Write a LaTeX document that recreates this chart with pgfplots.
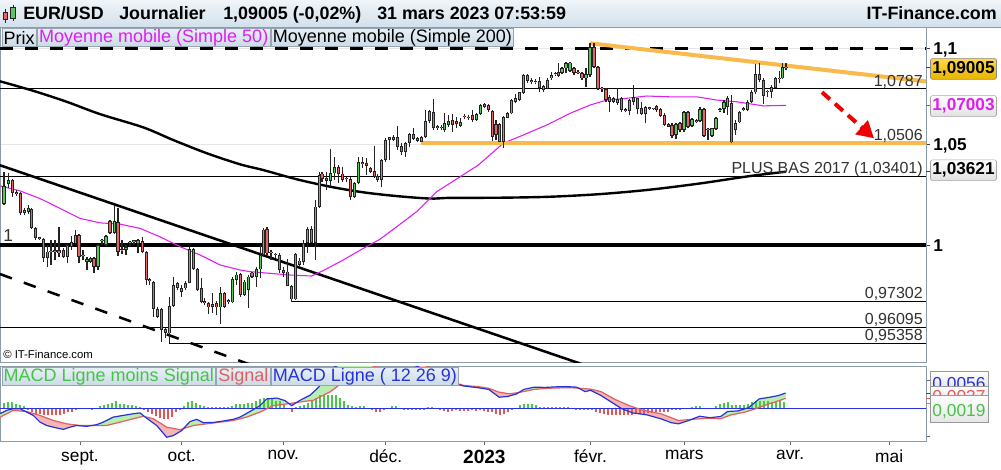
\documentclass[border=0pt]{standalone}
\usepackage{pgfplots}
\pgfplotsset{compat=1.18}
\usepackage{pgfplotstable}
\usetikzlibrary{arrows.meta}
\usepackage{fontspec}
\setmainfont{Liberation Sans}
\definecolor{frame}{RGB}{140,155,168}
\definecolor{tabtop}{RGB}{232,240,246}
\definecolor{tabbot}{RGB}{202,218,230}
\definecolor{tabbd}{RGB}{150,165,178}
\definecolor{hdrtop}{RGB}{240,245,249}
\definecolor{hdrbot}{RGB}{210,224,235}
\definecolor{candG}{RGB}{92,198,92}
\definecolor{candR}{RGB}{226,102,102}
\definecolor{candE}{RGB}{35,35,35}
\definecolor{mag}{RGB}{222,30,240}
\definecolor{orng}{RGB}{249,185,75}
\definecolor{gold1}{RGB}{255,216,70}
\definecolor{gold2}{RGB}{232,180,0}
\definecolor{macdB}{RGB}{40,50,220}
\definecolor{sigR}{RGB}{228,95,95}
\definecolor{fillG}{RGB}{184,238,174}
\definecolor{fillR}{RGB}{245,182,182}
\definecolor{histG}{RGB}{70,200,70}
\definecolor{histR}{RGB}{226,85,85}
\definecolor{txtG}{RGB}{70,195,70}
\definecolor{labgray}{RGB}{50,50,50}

% ---- daily candles, rising (x = chart position, o h l c) ----
\pgfplotstableread{
x o h l c
4 1.0200 1.0360 1.0196 1.0290
8.3 1.0300 1.0355 1.0280 1.0320
24.3 1.0158 1.0181 1.0146 1.0171
28.3 1.0163 1.0196 1.0154 1.0181
47.3 0.9938 1.0000 0.9896 0.9968
55 0.9968 1.0024 0.9928 0.9969
67.3 0.9944 1.0005 0.9914 1.0000
71.3 0.9992 1.0044 0.9976 1.0016
75.3 1.0008 1.0073 1.0000 1.0049
87 0.9920 0.9942 0.9880 0.9933
90.5 0.9920 0.9942 0.9914 0.9936
98 0.9893 1.0005 0.9880 1.0000
102 1.0020 1.0029 1.0000 1.0021
106 1.0000 1.0049 0.9995 1.0044
114.3 1.0057 1.0196 1.0054 1.0117
126 0.9976 1.0000 0.9952 0.9992
130 1.0008 1.0019 0.9995 1.0009
134 1.0016 1.0024 1.0000 1.0017
138 1.0008 1.0029 0.9960 1.0024
157.3 0.9658 0.9705 0.9651 0.9695
169.3 0.9581 0.9753 0.9535 0.9710
173.3 0.9710 0.9845 0.9705 0.9808
177.3 0.9794 0.9822 0.9784 0.9818
181.3 0.9776 0.9808 0.9753 0.9795
185.3 0.9792 0.9827 0.9784 0.9819
189.3 0.9819 0.9990 0.9816 0.9981
212.7 0.9705 0.9769 0.9674 0.9718
220.7 0.9702 0.9800 0.9625 0.9769
228.3 0.9729 0.9742 0.9718 0.9730
232.3 0.9726 0.9848 0.9721 0.9837
236.5 0.9832 0.9872 0.9808 0.9858
244.3 0.9761 0.9832 0.9756 0.9824
248.3 0.9784 0.9856 0.9699 0.9848
256.3 0.9845 0.9896 0.9800 0.9883
260.3 0.9883 1.0000 0.9842 0.9952
263.5 0.9952 1.0083 0.9944 1.0076
295.3 0.9740 0.9962 0.9739 0.9957
299.3 0.9904 0.9936 0.9896 0.9925
303.3 0.9920 1.0024 0.9904 1.0011
307.3 1.0011 1.0089 0.9962 1.0076
315.3 1.0011 1.0220 0.9928 1.0188
319.3 1.0188 1.0362 1.0180 1.0345
330.3 1.0317 1.0475 1.0287 1.0353
334.3 1.0353 1.0434 1.0320 1.0387
354.3 1.0237 1.0310 1.0233 1.0304
358.3 1.0304 1.0437 1.0300 1.0412
381.7 1.0320 1.0424 1.0284 1.0420
385.3 1.0420 1.0531 1.0412 1.0522
389.3 1.0522 1.0539 1.0420 1.0536
393.3 1.0522 1.0548 1.0517 1.0539
405.3 1.0462 1.0513 1.0437 1.0506
409.3 1.0506 1.0560 1.0485 1.0553
421.3 1.0513 1.0543 1.0512 1.0539
425.3 1.0536 1.0676 1.0531 1.0619
429.3 1.0619 1.0676 1.0608 1.0671
444.7 1.0573 1.0659 1.0564 1.0609
448.7 1.0599 1.0650 1.0590 1.0619
460.7 1.0595 1.0633 1.0589 1.0614
476.7 1.0624 1.0659 1.0619 1.0654
480.7 1.0654 1.0706 1.0650 1.0702
484.7 1.0693 1.0711 1.0685 1.0706
503.3 1.0513 1.0646 1.0480 1.0641
507.3 1.0636 1.0664 1.0633 1.0659
511.3 1.0659 1.0732 1.0655 1.0728
515.3 1.0719 1.0758 1.0711 1.0737
519.3 1.0728 1.0771 1.0723 1.0768
523.3 1.0763 1.0863 1.0759 1.0859
539.3 1.0792 1.0850 1.0771 1.0827
543.3 1.0780 1.0806 1.0771 1.0802
547.3 1.0789 1.0843 1.0785 1.0832
551.3 1.0841 1.0876 1.0832 1.0859
562 1.0868 1.0901 1.0864 1.0894
566 1.0894 1.0929 1.0868 1.0920
570 1.0880 1.0929 1.0875 1.0925
586 1.0841 1.0894 1.0797 1.0863
590 1.0859 1.1027 1.0850 1.1009
609.3 1.0719 1.0754 1.0667 1.0745
617.3 1.0711 1.0789 1.0702 1.0733
629.3 1.0671 1.0733 1.0650 1.0728
645.3 1.0655 1.0699 1.0608 1.0693
653.3 1.0681 1.0686 1.0676 1.0682
676 1.0548 1.0608 1.0527 1.0602
684 1.0573 1.0671 1.0564 1.0664
692 1.0595 1.0636 1.0590 1.0629
696.7 1.0612 1.0629 1.0609 1.0624
700 1.0619 1.0693 1.0612 1.0681
712 1.0544 1.0583 1.0539 1.0582
716 1.0578 1.0641 1.0573 1.0633
720 1.0674 1.0688 1.0667 1.0681
724 1.0681 1.0728 1.0659 1.0719
727.3 1.0693 1.0750 1.0650 1.0740
735.3 1.0573 1.0624 1.0548 1.0608
739.3 1.0612 1.0671 1.0608 1.0664
747.3 1.0676 1.0728 1.0671 1.0719
751.3 1.0719 1.0780 1.0711 1.0768
755.3 1.0768 1.0916 1.0758 1.0863
771.3 1.0771 1.0806 1.0740 1.0797
775.3 1.0792 1.0850 1.0789 1.0841
779.3 1.0837 1.0880 1.0815 1.0844
782.5 1.0841 1.0920 1.0837 1.0902
786 1.0894 1.0920 1.0885 1.09005
}\upc

% ---- daily candles, falling ----
\pgfplotstableread{
x o h l c
12.3 1.0320 1.0325 1.0235 1.0255
16.3 1.0255 1.0270 1.0240 1.0252
20.3 1.0255 1.0260 1.0146 1.0156
31.3 1.0176 1.0181 1.0078 1.0082
35.3 1.0082 1.0087 1.0024 1.0034
39.3 1.0034 1.0039 1.0024 1.0031
43.3 1.0029 1.0034 0.9919 0.9938
51 0.9969 1.0024 0.9904 0.9966
59 0.9976 1.0087 0.9944 0.9960
63.3 0.9976 0.9986 0.9938 0.9943
79 1.0049 1.0054 0.9914 0.9944
83 0.9950 0.9976 0.9928 0.9945
94 0.9938 0.9942 0.9866 0.9894
110 1.0117 1.0122 1.0054 1.0059
118 1.0113 1.0181 0.9947 0.9968
122 0.9981 1.0024 0.9957 0.9974
142.3 1.0021 1.0040 0.9960 0.9965
146.3 0.9968 0.9971 0.9808 0.9832
149.3 0.9830 0.9842 0.9808 0.9829
153.3 0.9824 0.9827 0.9658 0.9695
161.3 0.9695 0.9699 0.9542 0.9597
165.3 0.9602 0.9606 0.9559 0.9583
193.3 0.9981 0.9986 0.9880 0.9885
197.3 0.9885 0.9890 0.9782 0.9784
201.3 0.9794 0.9842 0.9721 0.9729
204.7 0.9734 0.9747 0.9713 0.9721
208.7 0.9724 0.9728 0.9671 0.9702
216.7 0.9724 0.9734 0.9666 0.9702
224.3 0.9769 0.9775 0.9699 0.9705
240.7 0.9861 0.9866 0.9753 0.9761
252 0.9867 0.9870 0.9842 0.9845
267 1.0076 1.0089 0.9952 0.9960
271 0.9964 0.9976 0.9928 0.9962
275.3 0.9953 0.9963 0.9936 0.9951
279.3 0.9952 0.9963 0.9864 0.9880
283.3 0.9880 0.9896 0.9848 0.9864
287.3 0.9872 0.9933 0.9803 0.9805
291.3 0.9805 0.9808 0.9730 0.9740
311.3 1.0076 1.0092 1.0008 1.0011
322 1.0353 1.0362 1.0312 1.0324
326.3 1.0328 1.0362 1.0270 1.0317
338.3 1.0387 1.0395 1.0307 1.0350
342.3 1.0353 1.0387 1.0312 1.0320
346.3 1.0325 1.0335 1.0310 1.0324
350.3 1.0324 1.0337 1.0220 1.0237
362.3 1.0412 1.0437 1.0379 1.0400
366.3 1.0404 1.0429 1.0345 1.0390
370.3 1.0379 1.0387 1.0353 1.0362
374.3 1.0365 1.0492 1.0329 1.0337
377.7 1.0340 1.0353 1.0312 1.0320
397.3 1.0539 1.0594 1.0471 1.0488
401.3 1.0492 1.0506 1.0446 1.0462
413.3 1.0553 1.0582 1.0522 1.0526
417.3 1.0531 1.0539 1.0513 1.0517
433.3 1.0667 1.0732 1.0573 1.0582
437.3 1.0587 1.0599 1.0573 1.0586
441.3 1.0590 1.0599 1.0573 1.0582
452.7 1.0624 1.0654 1.0564 1.0599
456.7 1.0619 1.0640 1.0584 1.0604
464.7 1.0642 1.0655 1.0629 1.0641
468.7 1.0640 1.0650 1.0624 1.0636
472.7 1.0650 1.0676 1.0615 1.0624
488.7 1.0702 1.0707 1.0667 1.0676
492.7 1.0671 1.0676 1.0517 1.0539
496 1.0602 1.0624 1.0522 1.0548
499.3 1.0602 1.0609 1.0510 1.0513
527.3 1.0859 1.0864 1.0815 1.0827
531.3 1.0832 1.0843 1.0811 1.0820
535.3 1.0827 1.0837 1.0811 1.0820
555.3 1.0863 1.0875 1.0854 1.0862
558.7 1.0873 1.0920 1.0851 1.0855
574 1.0894 1.0903 1.0859 1.0868
578 1.0876 1.0885 1.0864 1.0868
582 1.0868 1.0876 1.0832 1.0841
594 1.1009 1.1027 1.0894 1.0902
598 1.0902 1.0906 1.0780 1.0789
602 1.0792 1.0797 1.0771 1.0785
606 1.0785 1.0789 1.0719 1.0728
613.3 1.0737 1.0745 1.0711 1.0719
621.3 1.0737 1.0744 1.0664 1.0676
625.3 1.0681 1.0685 1.0664 1.0671
633.3 1.0745 1.0806 1.0702 1.0719
637.3 1.0737 1.0740 1.0654 1.0681
641.3 1.0688 1.0719 1.0650 1.0655
649.3 1.0685 1.0693 1.0676 1.0684
656.7 1.0698 1.0702 1.0667 1.0676
660.7 1.0681 1.0685 1.0641 1.0646
664.7 1.0650 1.0659 1.0595 1.0599
668.7 1.0602 1.0608 1.0589 1.0590
672 1.0599 1.0608 1.0534 1.0544
680 1.0608 1.0616 1.0564 1.0573
688 1.0664 1.0671 1.0582 1.0590
704 1.0681 1.0685 1.0539 1.0544
708 1.0574 1.0582 1.0522 1.0573
731.3 1.0711 1.0754 1.0509 1.0510
743.3 1.0685 1.0691 1.0671 1.0676
759.3 1.0863 1.0922 1.0823 1.0832
763.3 1.0832 1.0841 1.0706 1.0750
767.3 1.0772 1.0780 1.0745 1.0771
}\dnc

% ---- MACD line ----
\pgfplotstableread{
x y
0 -0.0018
6.7 -0.0006
13.3 0.0000
20 0.0000
26.7 -0.0012
33.3 -0.0024
40 -0.0048
46.7 -0.0060
53.3 -0.0066
63.3 -0.0074
70 -0.0066
76.7 -0.0060
86.7 -0.0063
96.7 -0.0057
103.3 -0.0048
113.3 -0.0030
123.3 -0.0024
133.3 -0.0018
140 -0.0015
146.7 -0.0034
156.7 -0.0060
166.7 -0.0102
173.3 -0.0096
181.7 -0.0078
190 -0.0046
196.7 -0.0038
203.3 -0.0050
213.3 -0.0049
223.3 -0.0044
233.3 -0.0038
240 -0.0030
250 -0.0010
260 0.0011
266.7 0.0035
276.7 0.0038
285 0.0029
291.7 0.0011
300 0.0030
310 0.0048
316.7 0.0070
323.3 0.0095
326.7 0.0119
335 0.0150
350 0.0172
370 0.0185
390 0.0182
410 0.0160
430 0.0135
445 0.0105
450 0.0093
464 0.0081
478 0.0075
488.7 0.0069
499.2 0.0041
508 0.0044
516.8 0.0053
523.8 0.0069
534.3 0.0077
544.9 0.0076
555.4 0.0078
566 0.0079
576.5 0.0077
585.3 0.0061
590.5 0.0066
601 0.0047
611.6 0.0023
622.2 -0.0001
632.7 -0.0015
646.8 -0.0022
660.8 -0.0036
671.4 -0.0050
678.4 -0.0054
688.9 -0.0042
699.5 -0.0027
710 -0.0032
720.6 -0.0028
727.6 -0.0010
738.1 -0.0008
748.7 0.0004
759.2 0.0035
769.8 0.0041
778.5 0.0047
785.6 0.0056
}\macd

% ---- MACD signal ----
\pgfplotstableread{
x y
0 -0.0030
6.7 -0.0018
13.3 -0.0006
26.7 -0.0010
40 -0.0024
53.3 -0.0042
66.7 -0.0054
80 -0.0060
93.3 -0.0060
106.7 -0.0060
120 -0.0048
133.3 -0.0036
143.3 -0.0027
153.3 -0.0036
166.7 -0.0066
180 -0.0075
193.3 -0.0060
206.7 -0.0054
220 -0.0048
233.3 -0.0042
246.7 -0.0030
260 -0.0012
273.3 0.0011
286.7 0.0017
300 0.0024
313.3 0.0030
330 0.0060
345 0.0100
365 0.0140
385 0.0162
405 0.0168
425 0.0155
440 0.0128
450 0.0097
464 0.0083
478 0.0079
488.7 0.0073
499.2 0.0059
509.7 0.0053
520.3 0.0059
534.3 0.0069
548.4 0.0073
566 0.0075
576.5 0.0074
590.5 0.0070
601 0.0061
615.1 0.0033
629.2 0.0011
643.3 -0.0006
660.8 -0.0018
678.4 -0.0042
692.4 -0.0038
706.5 -0.0034
720.6 -0.0036
731.1 -0.0022
745.2 -0.0012
755.8 0.0000
766.2 0.0014
776.8 0.0026
785.6 0.0037
}\sig

% ---- MACD histogram ----
\pgfplotstableread{
x v
4 0.0021
8 0.0024
12 0.0024
16 0.0017
20 0.0014
24 0.0008
28 -0.0006
32 -0.0012
36 -0.0018
40 -0.0018
44 -0.0024
48 -0.0021
52 -0.0024
56 -0.0024
60 -0.0021
64 -0.0018
68 -0.0012
72 -0.0010
76 -0.0003
80 0.0001
84 0.0002
88 0.0001
92 -0.0002
96 0.0004
100 0.0008
104 0.0014
108 0.0017
112 0.0021
116 0.0026
120 0.0017
124 0.0017
128 0.0014
132 0.0014
136 0.0010
140 0.0006
144 -0.0006
148 -0.0012
152 -0.0018
156 -0.0027
160 -0.0034
164 -0.0036
168 -0.0036
172 -0.0030
176 -0.0012
180 -0.0006
184 0.0011
188 0.0024
192 0.0026
196 0.0021
200 0.0014
204 0.0010
208 0.0006
212 0.0005
216 0.0005
220 0.0005
224 0.0005
228 0.0005
232 0.0008
236 0.0017
240 0.0017
244 0.0017
248 0.0021
252 0.0021
256 0.0026
260 0.0033
264 0.0038
268 0.0038
272 0.0035
276 0.0029
280 0.0026
284 0.0014
288 0.0002
292 -0.0012
296 0.0006
300 0.0010
304 0.0014
308 0.0021
312 0.0029
316 0.0038
320 0.0048
324 0.0048
328 0.0050
332 0.0050
336 0.0048
340 0.0038
344 0.0029
348 0.0014
352 0.0010
356 0.0006
360 0.0010
364 0.0010
368 0.0002
372 -0.0006
376 -0.0010
380 -0.0010
384 -0.0002
388 0.0002
392 0.0008
396 0.0008
400 0.0001
404 -0.0004
408 -0.0004
412 -0.0002
416 -0.0004
420 -0.0004
424 -0.0002
428 0.0006
432 0.0006
436 0.0001
440 -0.0006
444 -0.0008
448 -0.0010
452 -0.0008
456 -0.0006
460 -0.0008
464 -0.0008
468 -0.0008
472 -0.0006
476 -0.0008
480 -0.0006
484 -0.0008
488 -0.0010
492 -0.0012
496 -0.0018
500 -0.0021
504 -0.0018
508 -0.0012
512 -0.0002
516 0.0004
520 0.0014
524 0.0017
528 0.0017
532 0.0017
536 0.0014
540 0.0006
544 0.0005
548 0.0005
552 0.0005
556 0.0005
560 0.0005
564 0.0006
568 0.0005
572 0.0001
576 -0.0002
580 -0.0006
584 -0.0006
588 -0.0001
592 -0.0002
596 -0.0010
600 -0.0014
604 -0.0018
608 -0.0021
612 -0.0021
616 -0.0021
620 -0.0024
624 -0.0024
628 -0.0021
632 -0.0021
636 -0.0018
640 -0.0018
644 -0.0018
648 -0.0016
652 -0.0015
656 -0.0012
660 -0.0012
664 -0.0010
668 -0.0010
672 -0.0006
676 -0.0006
680 -0.0002
684 0.0001
688 0.0001
692 0.0006
696 0.0008
700 0.0008
704 0.0002
708 0.0001
712 0.0002
716 0.0008
720 0.0016
724 0.0021
728 0.0024
732 0.0012
736 0.0012
740 0.0012
744 0.0014
748 0.0016
752 0.0024
756 0.0026
760 0.0026
764 0.0026
768 0.0026
772 0.0024
776 0.0024
780 0.0026
784 0.0024
}\hist

\pgfplotsset{
  errcandle/.style 2 args={draw=none, mark=none, forget plot,
    error bars/.cd, y dir=plus, y explicit, error mark=none,
    error bar style={line width=#1, draw=#2, solid, line cap=butt}},
}
\tikzset{tab/.style={draw=tabbd, top color=tabtop, bottom color=tabbot, line width=0.75pt,
  minimum height=13.5pt, inner xsep=1.3pt, inner ysep=0pt,
  font=\fontsize{13.5}{13.5}\selectfont, anchor=north west}}

\begin{document}
\begin{tikzpicture}[x=0.75pt,y=0.75pt]
\fill[white] (0,0) rectangle (1001,-469);

% ================= MAIN PRICE PANEL (logarithmic price scale) =================
\begin{axis}[
  at={(0pt,-271.5pt)}, anchor=south west, scale only axis,
  width=694.5pt, height=251.25pt,
  xmin=0, xmax=926, ymin=-0.05669, ymax=0.10564,
  y filter/.expression={ln(y)},
  axis line style={draw=frame, line width=0.75pt},
  xtick=\empty,
  ytick={0,0.04879,0.09531}, yticklabels={},
  ytick pos=right, tick align=outside, major tick length=3pt,
  tick style={draw=black!75, line width=0.75pt},
  extra y ticks={0.08622,0.06769,0.03557}, extra y tick labels={},
  extra y tick style={grid=none},
  ymajorgrids, grid style={draw=black!10, line width=0.75pt},
]
% horizontal levels
\addplot[black, line width=0.75pt] coordinates {(0,1.0787) (926,1.0787)};
\addplot[black, line width=0.75pt] coordinates {(0,1.03401) (926,1.03401)};
\addplot[black, line width=0.75pt] coordinates {(291,0.97302) (926,0.97302)};
\addplot[black, line width=0.75pt] coordinates {(0,0.96095) (926,0.96095)};
\addplot[black, line width=0.75pt] coordinates {(169.3,0.95358) (926,0.95358)};
\addplot[black, line width=2.6pt] coordinates {(0,1) (926,1)};
\addplot[black, line width=2pt, dash pattern=on 9.75pt off 9pt] coordinates {(0,1.1) (926,1.1)};
% trend lines
\addplot[black, line width=1.9pt] coordinates {(0,1.0394) (600,0.9411)};
\addplot[black, line width=1.9pt, dash pattern=on 9.5pt off 9.5pt] coordinates {(0,0.98605) (260,0.94209)};
% MA 200
\addplot[black, line width=1.8pt, smooth] coordinates {
(0,1.0826) (33.3,1.0776) (66.7,1.0719) (100,1.0655) (143.3,1.0587) (173.3,1.0522)
(206.7,1.0455) (240,1.0399) (263.3,1.0370) (296.7,1.0324) (330,1.0287) (363.3,1.0259)
(396.7,1.0240) (430,1.0228) (450,1.0231) (500,1.0232) (550,1.0237) (600,1.0250)
(650,1.0272) (700,1.0303) (750,1.0340) (786,1.0362)};
% MA 50
\addplot[mag, line width=0.8pt] coordinates {
(0,1.0291) (20,1.0266) (40,1.0228) (60,1.0179) (80,1.0130) (100,1.0108) (120,1.0102)
(140,1.0081) (160,1.0040) (180,0.9992) (200,0.9952) (220,0.9904) (240,0.9880)
(250,0.9872) (270,0.9864) (290,0.9856) (311.7,0.9851) (323.3,0.9877) (343.3,0.9928)
(363.3,0.9984) (380,1.0028) (396.7,1.0089) (416.7,1.0163) (436.7,1.0262) (450,1.0304)
(478.3,1.0395) (503.3,1.0506) (523.3,1.0548) (546.7,1.0599) (570,1.0659) (590,1.0702)
(606.7,1.0728) (620,1.0733) (646.7,1.0749) (670,1.0745) (696.7,1.0745) (716.7,1.0728)
(736.7,1.0719) (746.7,1.0711) (763.3,1.0698) (786,1.0700)};
% orange support / resistance
\addplot[orng, line width=3pt] coordinates {(421,1.0506) (926,1.0506)};
\addplot[orng, line width=3pt] coordinates {(590,1.1027) (926,1.0825)};
% candles: wicks
\addplot[errcandle={0.8pt}{candE}] table[x=x, y=l, y error expr={ln(\thisrow{h}/\thisrow{l})}] {\upc};
\addplot[errcandle={0.8pt}{candE}] table[x=x, y=l, y error expr={ln(\thisrow{h}/\thisrow{l})}] {\dnc};
% candles: body outlines
\addplot[errcandle={2.3pt}{candE}] table[x=x, y=o, y error expr={max(ln(\thisrow{c}/\thisrow{o}),0.0006)}] {\upc};
\addplot[errcandle={2.3pt}{candE}] table[x=x, y=c, y error expr={max(ln(\thisrow{o}/\thisrow{c}),0.0006)}] {\dnc};
% candles: body fills
\addplot[errcandle={1.15pt}{candG}] table[x=x, y expr={\thisrow{o}*1.0004}, y error expr={max(ln(\thisrow{c}/\thisrow{o})-0.0008,0.00005)}] {\upc};
\addplot[errcandle={1.15pt}{candR}] table[x=x, y expr={\thisrow{c}*1.0004}, y error expr={max(ln(\thisrow{o}/\thisrow{c})-0.0008,0.00005)}] {\dnc};
% red arrow
\addplot[red!95!black, line width=3pt, dash pattern=on 8pt off 5pt, -{Triangle[length=12.5pt,width=13.5pt]}] coordinates {(822,1.0769) (874,1.0531)};
\end{axis}

% ================= MACD PANEL =================
\begin{axis}[
  at={(0pt,-330.75pt)}, anchor=south west, scale only axis,
  width=694.5pt, height=56.25pt,
  xmin=0, xmax=926, ymin=-0.01154, ymax=0.01525,
  axis line style={draw=frame, line width=0.75pt},
  xtick={80,181.7,283.3,385.7,484.4,590.5,684.4,790.1,889.2},
  xticklabels={sept.,oct.,nov.,déc.,{\fontsize{14.3}{14.3}\selectfont\bfseries 2023},févr.,mars,avr.,mai},
  xtick pos=left, ytick pos=right,
  ytick={-0.01,0.01}, yticklabels={}, scaled y ticks=false,
  tick align=outside, major tick length=3pt,
  tick style={draw=black!60, line width=0.75pt},
  xticklabel style={font=\fontsize{13}{13}\selectfont, inner sep=1.5pt, yshift=-2.2pt},
]
% band between MACD and signal (MACD forward, signal back)
\addplot[fill=fillR, draw=none, forget plot] coordinates {
(0,-0.0018) (6.7,-0.0006) (13.3,0) (20,0) (26.7,-0.0012) (33.3,-0.0024) (40,-0.0048) (46.7,-0.0060)
(53.3,-0.0066) (63.3,-0.0074) (70,-0.0066) (76.7,-0.0060) (86.7,-0.0063) (96.7,-0.0057) (103.3,-0.0048)
(113.3,-0.0030) (123.3,-0.0024) (133.3,-0.0018) (140,-0.0015) (146.7,-0.0034) (156.7,-0.0060)
(166.7,-0.0102) (173.3,-0.0096) (181.7,-0.0078) (190,-0.0046) (196.7,-0.0038) (203.3,-0.0050)
(213.3,-0.0049) (223.3,-0.0044) (233.3,-0.0038) (240,-0.0030) (250,-0.0010) (260,0.0011) (266.7,0.0035)
(276.7,0.0038) (285,0.0029) (291.7,0.0011) (300,0.0030) (310,0.0048) (316.7,0.0070) (323.3,0.0095)
(326.7,0.0119) (335,0.0150) (350,0.0172) (370,0.0185) (390,0.0182) (410,0.0160) (430,0.0135)
(445,0.0105) (450,0.0093) (464,0.0081) (478,0.0075) (488.7,0.0069) (499.2,0.0041) (508,0.0044)
(516.8,0.0053) (523.8,0.0069) (534.3,0.0077) (544.9,0.0076) (555.4,0.0078) (566,0.0079) (576.5,0.0077)
(585.3,0.0061) (590.5,0.0066) (601,0.0047) (611.6,0.0023) (622.2,-0.0001) (632.7,-0.0015)
(646.8,-0.0022) (660.8,-0.0036) (671.4,-0.0050) (678.4,-0.0054) (688.9,-0.0042) (699.5,-0.0027)
(710,-0.0032) (720.6,-0.0028) (727.6,-0.0010) (738.1,-0.0008) (748.7,0.0004) (759.2,0.0035)
(769.8,0.0041) (778.5,0.0047) (785.6,0.0056)
(785.6,0.0037) (776.8,0.0026) (766.2,0.0014) (755.8,0) (745.2,-0.0012) (731.1,-0.0022) (720.6,-0.0036)
(706.5,-0.0034) (692.4,-0.0038) (678.4,-0.0042) (660.8,-0.0018) (643.3,-0.0006) (629.2,0.0011)
(615.1,0.0033) (601,0.0061) (590.5,0.0070) (576.5,0.0074) (566,0.0075) (548.4,0.0073) (534.3,0.0069)
(520.3,0.0059) (509.7,0.0053) (499.2,0.0059) (488.7,0.0073) (478,0.0079) (464,0.0083) (450,0.0097)
(440,0.0128) (425,0.0155) (405,0.0168) (385,0.0162) (365,0.0140) (345,0.0100) (330,0.0060)
(313.3,0.0030) (300,0.0024) (286.7,0.0017) (273.3,0.0011) (260,-0.0012) (246.7,-0.0030)
(233.3,-0.0042) (220,-0.0048) (206.7,-0.0054) (193.3,-0.0060) (180,-0.0075) (166.7,-0.0066)
(153.3,-0.0036) (143.3,-0.0027) (133.3,-0.0036) (120,-0.0048) (106.7,-0.0060) (93.3,-0.0060)
(80,-0.0060) (66.7,-0.0054) (53.3,-0.0042) (40,-0.0024) (26.7,-0.0010) (13.3,-0.0006) (6.7,-0.0018)
(0,-0.0030)};
% parts of the band where MACD is above its signal
\addplot[fill=fillG, draw=none, forget plot] coordinates {
(0,-0.0018) (6.7,-0.0006) (13.3,0) (20,0) (25.4,-0.00097) (13.3,-0.0006) (6.7,-0.0018) (0,-0.0030)};
\addplot[fill=fillG, draw=none, forget plot] coordinates {
(91.7,-0.0060) (96.7,-0.0057) (103.3,-0.0048) (113.3,-0.0030) (123.3,-0.0024) (133.3,-0.0018)
(140,-0.0015) (145.3,-0.0029) (143.3,-0.0027) (133.3,-0.0036) (120,-0.0048) (106.7,-0.0060) (93.3,-0.0060)};
\addplot[fill=fillG, draw=none, forget plot] coordinates {
(183.3,-0.0072) (190,-0.0046) (196.7,-0.0038) (203.3,-0.0050) (213.3,-0.0049) (223.3,-0.0044)
(233.3,-0.0038) (240,-0.0030) (250,-0.0010) (260,0.0011) (266.7,0.0035) (276.7,0.0038) (285,0.0029)
(289,0.0018) (286.7,0.0017) (273.3,0.0011) (260,-0.0012) (246.7,-0.0030) (233.3,-0.0042) (220,-0.0048)
(206.7,-0.0054) (193.3,-0.0060) (183.3,-0.0071)};
\addplot[fill=fillG, draw=none, forget plot] coordinates {
(296.5,0.0022) (300,0.0030) (310,0.0048) (316.7,0.0070) (323.3,0.0095) (326.7,0.0119) (335,0.0150)
(350,0.0172) (370,0.0185) (390,0.0182) (403,0.0166) (385,0.0162) (365,0.0140) (345,0.0100) (330,0.0060)
(313.3,0.0030) (300,0.0024)};
\addplot[fill=fillG, draw=none, forget plot] coordinates {
(519.3,0.0058) (523.8,0.0069) (534.3,0.0077) (544.9,0.0076) (555.4,0.0078) (566,0.0079) (576.5,0.0077)
(578.5,0.0073) (576.5,0.0074) (566,0.0075) (548.4,0.0073) (534.3,0.0069) (520.3,0.0059)};
\addplot[fill=fillG, draw=none, forget plot] coordinates {
(691.5,-0.0038) (699.5,-0.0027) (710,-0.0032) (720.6,-0.0028) (727.6,-0.0010) (738.1,-0.0008)
(748.7,0.0004) (759.2,0.0035) (769.8,0.0041) (778.5,0.0047) (785.6,0.0056) (785.6,0.0037) (776.8,0.0026)
(766.2,0.0014) (755.8,0) (745.2,-0.0012) (731.1,-0.0022) (720.6,-0.0036) (706.5,-0.0034) (692.4,-0.0038)};
% histogram (MACD minus signal)
\addplot[errcandle={1.5pt}{histG}] table[x=x, y expr=0, y error expr={max(\thisrow{v},0)}] {\hist};
\addplot[errcandle={1.5pt}{histR}] table[x=x, y expr={min(\thisrow{v},0)}, y error expr={max(-\thisrow{v},0)}] {\hist};
\addplot[macdB, line width=1.1pt] coordinates {(0,0) (926,0)};
\addplot[sigR, line width=0.9pt] table[x=x,y=y] {\sig};
\addplot[macdB, line width=0.9pt] table[x=x,y=y] {\macd};
\end{axis}

% ================= HEADER =================
\shade[top color=hdrtop, bottom color=hdrbot] (0,0) rectangle (1001,-27);
\draw[frame, line width=0.75pt] (0,-27) -- (1001,-27);
\draw[candE, line width=0.6pt] (5.2,-9) -- (5.2,-22.5);
\filldraw[fill=candR, draw=candE, line width=0.5pt] (3,-12) rectangle (7.5,-19.5);
\draw[candE, line width=0.6pt] (13,-4.5) -- (13,-20.5);
\filldraw[fill=candG, draw=candE, line width=0.5pt] (10.5,-7.5) rectangle (15.5,-18);
\begin{scope}[every node/.style={font=\fontsize{13.4}{13.4}\selectfont\bfseries, inner sep=0pt, anchor=base west}]
\node at (23,-19.3) {EUR/USD};
\node at (119,-19.3) {Journalier};
\node at (223,-19.3) {1,09005 (-0,02\%)};
\node at (377,-19.3) {31 mars 2023 07:53:59};
\node[anchor=base east] at (997,-19.3) {IT-Finance.com};
\end{scope}

% ================= TABS =================
\node[tab] (t1) at (1.5,-28) {Prix};
\node[tab, text=mag] (t2) at (t1.north east) {Moyenne mobile (Simple 50)};
\node[tab] (t3) at (t2.north east) {Moyenne mobile (Simple 200)};
\node[tab, text=txtG] (m1) at (1.5,-367) {MACD Ligne moins Signal};
\node[tab, text=sigR] (m2) at (m1.north east) {Signal};
\node[tab, text=macdB] (m3) at (m2.north east) {MACD Ligne ( 12 26 9)};

% ================= LABELS INSIDE PANEL =================
\begin{scope}[every node/.style={font=\fontsize{12}{12}\selectfont, text=labgray, inner sep=0pt, anchor=base east}]
\node at (923,-86) {1,0787};
\node at (923,-140.5) {1,0506};
\node at (923,-173) {PLUS BAS 2017 (1,03401)};
\node at (923,-298.5) {0,97302};
\node at (923,-324) {0,96095};
\node at (923,-340) {0,95358};
\end{scope}
\node[font=\fontsize{13}{13}\selectfont, text=labgray, inner sep=0pt, anchor=base west] at (3,-241.5) {1};
\node[font=\fontsize{8.5}{8.5}\selectfont, inner sep=0pt, anchor=base west] at (3,-358) {© IT-Finance.com};

% ================= RIGHT PRICE SCALE LABELS =================
\begin{scope}[every node/.style={font=\fontsize{12.9}{12.9}\selectfont\bfseries, inner sep=0pt}]
\node[anchor=base west] at (933,-54) {1,1};
\node[anchor=base west] at (933,-150) {1,05};
\node[anchor=base west] at (933,-251) {1};
\node[draw=black!45, rounded corners=1.2pt, top color=gold1, bottom color=gold2, minimum width=49.5pt, minimum height=15.75pt] at (963.5,-68.8) {1,09005};
\node[draw=black!35, rounded corners=1.2pt, top color=white, bottom color=black!12, minimum width=49.5pt, minimum height=15.75pt, text=mag] at (963.5,-106.2) {1,07003};
\node[draw=black!35, rounded corners=1.2pt, top color=white, bottom color=black!12, minimum width=49.5pt, minimum height=15.5pt] at (963.5,-170.3) {1,03621};
\end{scope}
\draw[mag, line width=0.75pt] (926,-105.3) -- (930,-105.3);

% ================= MACD SCALE LABELS =================
\begin{scope}[every node/.style={font=\fontsize{13}{13}\selectfont, inner sep=0pt, anchor=base}]
\shade[top color=white, bottom color=black!10] (930,-371) rectangle (988,-388);
\draw[black!40, line width=0.75pt] (930,-371) rectangle (988,-388);
\node[text=macdB] at (959,-389.2) {0,0056};
\shade[top color=white, bottom color=black!10] (930,-386) rectangle (988,-401.3);
\draw[black!40, line width=0.75pt] (930,-386) rectangle (988,-401.3);
\node[text=sigR] at (959,-402.2) {0,0037};
\shade[top color=white, bottom color=black!10] (930,-395.3) rectangle (988,-422.7);
\draw[black!40, line width=0.75pt] (930,-395.3) rectangle (988,-422.7);
\node[text=txtG] at (959,-416.2) {0,0019};
\end{scope}
\draw[macdB, line width=0.75pt] (926,-393) -- (930,-393);
\draw[sigR, line width=0.75pt] (926,-398.3) -- (930,-398.3);
\draw[txtG, line width=0.75pt] (926,-403.4) -- (930,-403.4);

\pgfresetboundingbox
\useasboundingbox (0,0) rectangle (1001,-469);
\end{tikzpicture}
\end{document}
